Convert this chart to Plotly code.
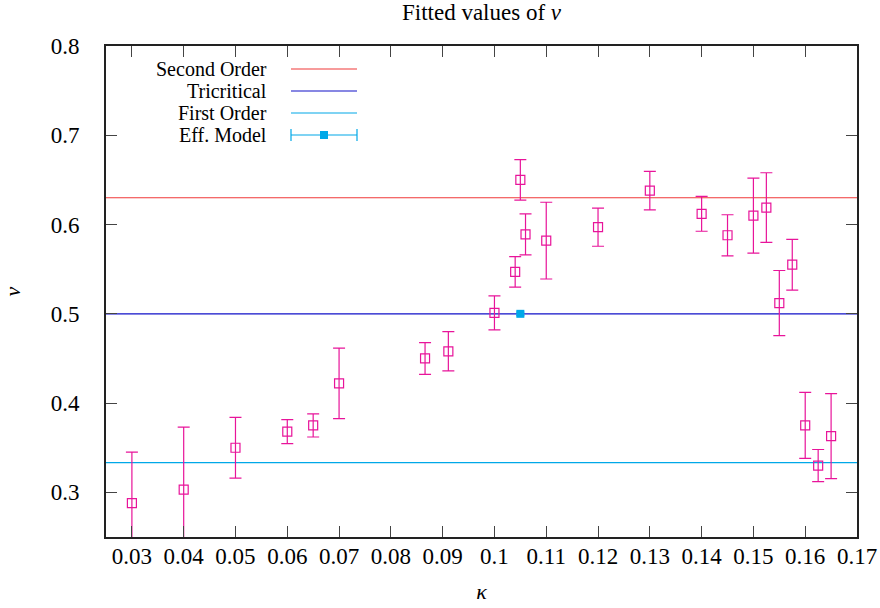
import plotly.graph_objects as go

# Data
kappa = [0.03, 0.04, 0.05, 0.06, 0.065, 0.07, 0.0866, 0.0911, 0.1, 0.104, 0.105,
         0.106, 0.11, 0.12, 0.13, 0.14, 0.145, 0.15, 0.1525, 0.155, 0.1575,
         0.16, 0.1625, 0.165]
nu = [0.288, 0.303, 0.350, 0.368, 0.375, 0.422, 0.450, 0.458, 0.501, 0.547, 0.650,
      0.589, 0.582, 0.597, 0.638, 0.612, 0.588, 0.610, 0.619, 0.512, 0.555,
      0.375, 0.330, 0.363]
nu_err = [0.057, 0.070, 0.034, 0.0135, 0.013, 0.0395, 0.0178, 0.022, 0.019, 0.017, 0.0227,
          0.023, 0.043, 0.0213, 0.0215, 0.0195, 0.023, 0.042, 0.039, 0.0365, 0.0285,
          0.037, 0.018, 0.0475]

eff_kappa = [0.105]
eff_nu = [0.500]
eff_err = [0.002]

ref_names = ["Second Order", "Tricritical", "First Order"]
ref_values = [0.63, 0.5, 1 / 3]
ref_colors = ["#f03838", "#1010c8", "#00a8e8"]

x_ticks = [0.03, 0.04, 0.05, 0.06, 0.07, 0.08, 0.09, 0.10, 0.11, 0.12, 0.13, 0.14, 0.15, 0.16, 0.17]
x_labels = ["0.03", "0.04", "0.05", "0.06", "0.07", "0.08", "0.09", "0.1", "0.11",
            "0.12", "0.13", "0.14", "0.15", "0.16", "0.17"]
y_ticks = [0.3, 0.4, 0.5, 0.6, 0.7, 0.8]
y_labels = ["0.3", "0.4", "0.5", "0.6", "0.7", "0.8"]

PINK = "#e8149a"
EFF = "#00a8e8"
FONT = "Liberation Serif, Times New Roman, serif"
X_RANGE = [0.025, 0.17]

fig = go.Figure()

# Horizontal reference lines as traces across the x range
for name, val, col in zip(ref_names, ref_values, ref_colors):
    fig.add_trace(go.Scatter(x=X_RANGE, y=[val, val], mode="lines",
                             line=dict(color=col, width=1.2), showlegend=False,
                             hoverinfo="skip"))

# Fitted data
fig.add_trace(go.Scatter(
    x=kappa, y=nu, mode="markers",
    marker=dict(symbol="square-open", size=9, color=PINK, line=dict(width=1.2, color=PINK)),
    error_y=dict(type="data", array=nu_err, color=PINK, thickness=1.2, width=6),
    showlegend=False))

# Effective model
fig.add_trace(go.Scatter(
    x=eff_kappa, y=eff_nu, mode="markers",
    marker=dict(symbol="square", size=8, color=EFF),
    error_y=dict(type="data", array=eff_err, color=EFF, thickness=1.2, width=4),
    showlegend=False))

# Custom gnuplot-style legend on a hidden overlay axis (0..1 of plot area)
leg_y = [69, 91, 113, 135]  # pixel rows in the figure
H = 608; T = 46; B = 71
ph = H - T - B
def py(p):
    return 1 - (p - T) / ph
L = 106; R = 23; W = 880
pw = W - L - R
def px(p):
    return (p - L) / pw

x0s, x1s = px(291), px(357)
LEG_FONT = dict(family=FONT, size=20, color="black")
for i, (name, col) in enumerate(zip(ref_names, ref_colors)):
    yy = py(leg_y[i])
    fig.add_trace(go.Scatter(x=[x0s, x1s], y=[yy, yy], mode="lines", xaxis="x2", yaxis="y2",
                             line=dict(color=col, width=1.2), showlegend=False, hoverinfo="skip"))
    fig.add_annotation(x=px(268), y=yy, xref="x2", yref="y2", text=name, showarrow=False,
                       xanchor="right", yanchor="middle", font=LEG_FONT, borderpad=0)
yy = py(leg_y[3])
fig.add_trace(go.Scatter(x=[(x0s + x1s) / 2], y=[yy], mode="markers", xaxis="x2", yaxis="y2",
                         marker=dict(symbol="square", size=8, color=EFF),
                         error_x=dict(type="constant", value=(x1s - x0s) / 2, color=EFF,
                                      thickness=1.2, width=6),
                         showlegend=False, hoverinfo="skip"))
fig.add_annotation(x=px(268), y=yy, xref="x2", yref="y2", text="Eff. Model", showarrow=False,
                   xanchor="right", yanchor="middle", font=LEG_FONT, borderpad=0)

axis_common = dict(showline=True, linecolor="#222", linewidth=2, mirror="ticks",
                   ticks="inside", ticklen=11, tickcolor="#444", tickwidth=1.3,
                   showgrid=False, zeroline=False, automargin=False,
                   tickfont=dict(family=FONT, size=23, color="black"))

fig.update_layout(
    width=880, height=608,
    margin=dict(l=L, r=R, t=T, b=B),
    paper_bgcolor="white", plot_bgcolor="white",
    showlegend=False,
    title=dict(text="Fitted values of <i>ν</i>", x=(L + pw / 2) / W, xanchor="center",
               y=1 - 12 / H, yanchor="middle", font=dict(family=FONT, size=23, color="black")),
    xaxis=dict(range=X_RANGE, tickvals=x_ticks, ticktext=x_labels, ticklabelstandoff=-3,
               title=dict(text="<i>κ</i>", font=dict(family=FONT, size=22, color="black"), standoff=16),
               **axis_common),
    yaxis=dict(range=[0.25, 0.8], tickvals=y_ticks, ticktext=y_labels, ticklabelstandoff=20,
               title=dict(text="<i>ν</i>", font=dict(family=FONT, size=22, color="black"), standoff=30),
               **axis_common),
    xaxis2=dict(range=[0, 1], overlaying="x", visible=False, fixedrange=True),
    yaxis2=dict(range=[0, 1], overlaying="y", visible=False, fixedrange=True),
)

fig.write_html("out.html", config={"displayModeBar": False},
               post_script="document.body.style.margin='0';document.body.style.overflow='hidden';")
